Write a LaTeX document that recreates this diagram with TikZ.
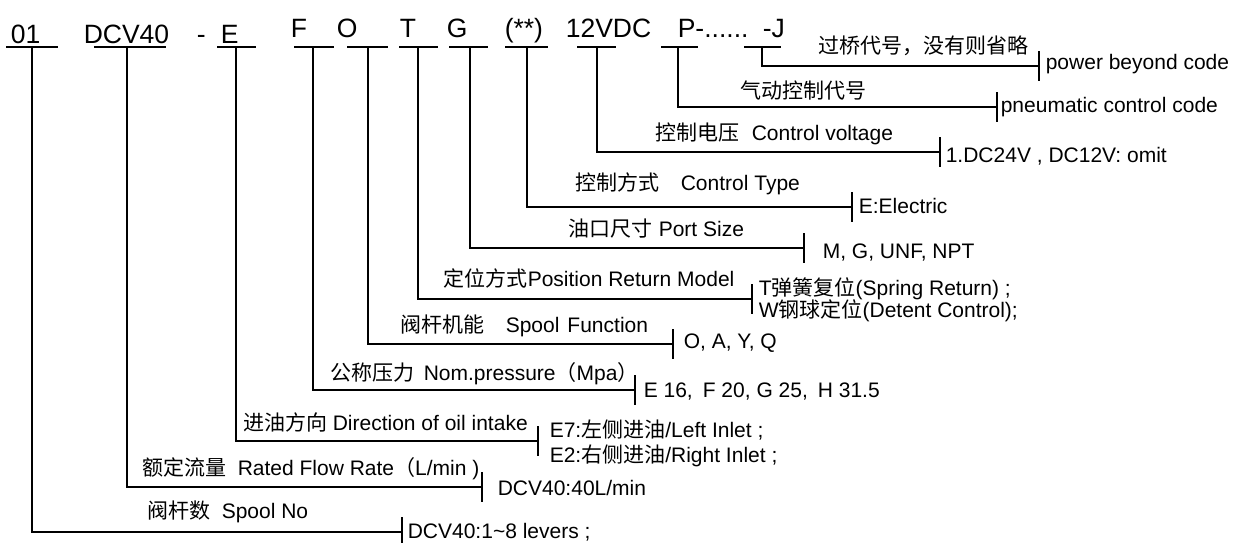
\documentclass[tikz,border=0pt]{standalone}
\usepackage{fontspec}
\setmainfont{Liberation Sans}
\newfontfamily\cjk{Noto Sans CJK SC}
\newcommand{\zh}[1]{{\cjk #1}}
\begin{document}
\begin{tikzpicture}[x=1pt,y=-1pt,line width=1.6pt,
  code/.style={anchor=base west,inner sep=0pt,font=\fontsize{26.5}{30}\selectfont},
  lbl/.style={anchor=base west,inner sep=0pt,font=\fontsize{21}{25}\selectfont},
  wire/.style={draw,line width=1.6pt,line cap=rect}]
\useasboundingbox[fill=white] (0,0) rectangle (1233,542);

% code letters
\node[code] (c01) at (10,43) {01};
\node[code] (cDCV) at (83,43) {DCV40};
\node[code] (cdash) at (196,43) {-};
\node[code] (cE) at (220,43) {E};
\node[code] (cF) at (290,37) {F};
\node[code] (cO) at (336,37) {O};
\node[code] (cT) at (399,37) {T};
\node[code] (cG) at (446,37) {G};
\node[code] (cS) at (504,37) {(**)};
\node[code] (cV) at (565,37) {12VDC};
\node[code] (cP) at (677,37) {P-......};
\node[code] (cJ) at (762,37) {-J};

% coordinates: top of each vertical (on underline) and corner at tick
\coordinate (u01) at (32,47);   \coordinate (k01) at (402,532);
\coordinate (uDCV) at (127,47); \coordinate (kDCV) at (482,487);
\coordinate (uE) at (236,47);   \coordinate (kE) at (538,441);
\coordinate (uF) at (313,47);   \coordinate (kF) at (635,390);
\coordinate (uO) at (368,47);   \coordinate (kO) at (673,344);
\coordinate (uT) at (418,47);   \coordinate (kT) at (752,299);
\coordinate (uG) at (470,47);   \coordinate (kG) at (804,248);
\coordinate (uS) at (527,47);   \coordinate (kS) at (852,207);
\coordinate (uV) at (597,47);   \coordinate (kV) at (940,152);
\coordinate (uP) at (678,47);   \coordinate (kP) at (997,107);
\coordinate (uJ) at (762,47);   \coordinate (kJ) at (1039,66);

% underlines
\draw[wire] ([xshift=-25pt]u01) -- ([xshift=25pt]u01);
\draw[wire] ([xshift=-32pt]uDCV) -- ([xshift=38pt]uDCV);
\draw[wire] ([xshift=-18pt]uE) -- ([xshift=19pt]uE);
\draw[wire] ([xshift=-18pt]uF) -- ([xshift=20pt]uF);
\draw[wire] ([xshift=-20pt]uO) -- ([xshift=19pt]uO);
\draw[wire] ([xshift=-18pt]uT) -- ([xshift=19pt]uT);
\draw[wire] ([xshift=-20pt]uG) -- ([xshift=17pt]uG);
\draw[wire] ([xshift=-21pt]uS) -- ([xshift=20pt]uS);
\draw[wire] ([xshift=-19pt]uV) -- ([xshift=18pt]uV);
\draw[wire] ([xshift=-16pt]uP) -- ([xshift=19pt]uP);
\draw[wire] ([xshift=-17pt]uJ) -- ([xshift=18pt]uJ);

% leaders
\foreach \n in {01,DCV,E,F,O,T,G,S,V,P,J}{
  \draw[wire,line cap=butt] (u\n) |- (k\n);
  \draw[wire,line cap=butt] ([yshift=15pt]k\n) -- ([yshift=-15pt]k\n);
}

% labels
\node[lbl] (lJ) at (818,53) {\zh{过桥代号，没有则省略}};
\node[lbl] (vJ) at (1045,69) {power beyond code};
\node[lbl] (lP) at (740,98) {\zh{气动控制代号}};
\node[lbl] (vP) at (1000,112) {pneumatic control code};
\node[lbl] (lV) at (655,140) {\zh{控制电压}\hspace{12pt}Control voltage};
\node[lbl] (vV) at (945,162) {1.DC24V , DC12V: omit};
\node[lbl] (lS) at (575,190) {\zh{控制方式}\hspace{21pt}Control Type};
\node[lbl] (vS) at (858,213) {E:Electric};
\node[lbl] (lG) at (568,236) {\zh{油口尺寸}\hspace{6pt}Port Size};
\node[lbl] (vG) at (822,258) {M, G, UNF, NPT};
\node[lbl] (lT) at (443,286) {\zh{定位方式}Position Return Model};
\node[lbl] (vT1) at (758,295) {T\zh{弹簧复位}(Spring Return) ;};
\node[lbl] (vT2) at (758,317) {W\zh{钢球定位}(Detent Control);};
\node[lbl] (lO) at (400,332) {\zh{阀杆机能}\hspace{21pt}Spool\hspace{8pt}Function};
\node[lbl] (vO) at (683,348) {O, A, Y, Q};
\node[lbl] (lF) at (330,380) {\zh{公称压力}\hspace{9pt}Nom.pressure\zh{（}Mpa\zh{）}};
\node[lbl] (vF) at (643,397) {E 16,\hspace{10pt}F 20, G 25,\hspace{10pt}H 31.5};
\node[lbl] (lE) at (243,430) {\zh{进油方向}\hspace{5pt}Direction of oil intake};
\node[lbl] (vE1) at (549,437) {E7:\zh{左侧进油}/Left Inlet ;};
\node[lbl] (vE2) at (549,462) {E2:\zh{右侧进油}/Right Inlet ;};
\node[lbl] (lDCV) at (142,475) {\zh{额定流量}\hspace{11pt}Rated Flow Rate\zh{（}L/min )};
\node[lbl] (vDCV) at (497,495) {DCV40:40L/min};
\node[lbl] (l01) at (147,518) {\zh{阀杆数}\hspace{11pt}Spool No};
\node[lbl] (v01) at (407,538) {DCV40:1\textasciitilde8 levers ;};
\end{tikzpicture}
\end{document}
